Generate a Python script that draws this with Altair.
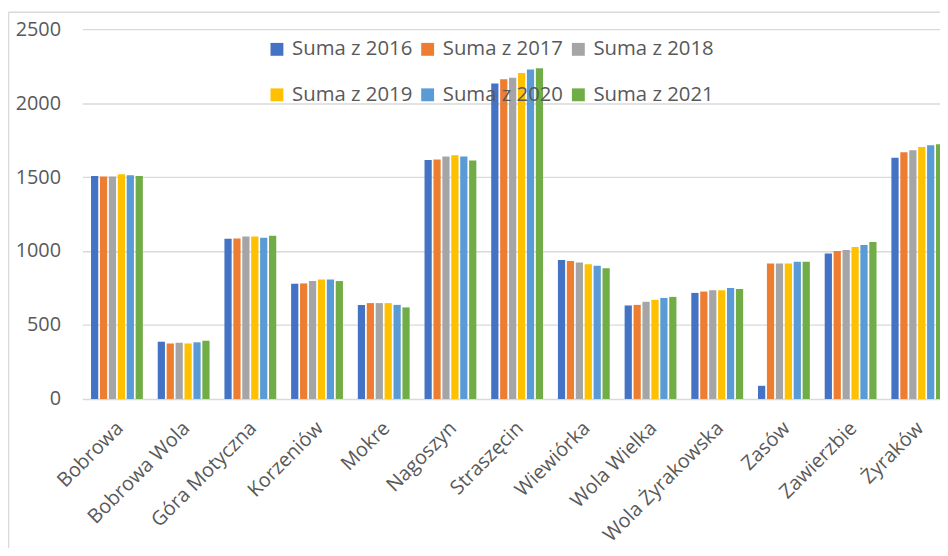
import altair as alt
import pandas as pd

categories = ["Bobrowa", "Bobrowa Wola", "Góra Motyczna", "Korzeniów", "Mokre",
              "Nagoszyn", "Straszęcin", "Wiewiórka", "Wola Wielka",
              "Wola Żyrakowska", "Zasów", "Zawierzbie", "Żyraków"]
series = ["Suma z 2016", "Suma z 2017", "Suma z 2018",
          "Suma z 2019", "Suma z 2020", "Suma z 2021"]
v2016 = [1507, 387, 1083, 779, 636, 1615, 2133, 940, 632, 717, 89, 983, 1630]
v2017 = [1503, 375, 1085, 781, 648, 1619, 2162, 933, 636, 726, 916, 1000, 1668]
v2018 = [1503, 380, 1099, 797, 648, 1639, 2171, 922, 657, 735, 915, 1007, 1682]
v2019 = [1519, 375, 1099, 808, 648, 1648, 2204, 911, 670, 735, 916, 1027, 1704]
v2020 = [1512, 383, 1090, 808, 636, 1639, 2227, 900, 683, 750, 927, 1041, 1715]
v2021 = [1507, 393, 1103, 797, 619, 1612, 2236, 884, 690, 744, 927, 1061, 1722]
colors = ["#4472C4", "#ED7D31", "#A5A5A5", "#FFC000", "#5B9BD5", "#70AD47"]
y_ticks = [0, 500, 1000, 1500, 2000, 2500]

rows = []
for s, vals in zip(series, [v2016, v2017, v2018, v2019, v2020, v2021]):
    for c, v in zip(categories, vals):
        rows.append({"category": c, "series": s, "value": v})
df = pd.DataFrame(rows)

FONT = "Open Sans"
TXT = "#595959"
GRID = "#D9D9D9"

bars = alt.Chart(df).mark_bar().encode(
    x=alt.X("category:N", sort=categories,
            scale=alt.Scale(range=[0, 877], paddingInner=0.223, paddingOuter=0.13),
            axis=alt.Axis(title=None, labelAngle=-45, labelFontSize=20, labelFont=FONT,
                          labelColor=TXT, labelPadding=19, labelOffset=-4, domain=False,
                          ticks=False, grid=False, labelOverlap=False, labelLimit=400)),
    xOffset=alt.XOffset("series:N", sort=series,
                        scale=alt.Scale(paddingInner=0.19, paddingOuter=0)),
    y=alt.Y("value:Q", scale=alt.Scale(domain=[0, 2500], nice=False),
            axis=alt.Axis(title=None, values=y_ticks, format="d", domain=False,
                          ticks=False, gridColor=GRID, gridWidth=1.4, labelPadding=22,
                          labelFontSize=20, labelFont=FONT, labelColor=TXT)),
    color=alt.Color("series:N", sort=series,
                    scale=alt.Scale(domain=series, range=colors),
                    legend=alt.Legend(title=None, orient="none", legendX=186, legendY=10,
                                      columns=3, direction="horizontal",
                                      symbolType="square", symbolSize=169,
                                      symbolStrokeWidth=0, labelFontSize=20.5,
                                      labelFont=FONT, labelColor=TXT, labelOffset=5,
                                      columnPadding=5, rowPadding=25, labelLimit=300,
                                      padding=0)),
)

one = pd.DataFrame({"a": [0]})
left_border = alt.Chart(one).mark_rule(color=GRID, strokeWidth=1.5).encode(
    x=alt.value(-74.5), y=alt.value(-17), y2=alt.value(530))
top_border = alt.Chart(one).mark_rule(color=GRID, strokeWidth=1.5).encode(
    x=alt.value(-74.5), x2=alt.value(900), y=alt.value(-17))

chart = alt.layer(bars, left_border, top_border).properties(
    width=865, height=373,
    padding={"left": 75, "top": 19, "right": 0, "bottom": 148},
    autosize=alt.AutoSizeParams(type="none"),
).configure_view(stroke=None)

chart.save("out.html", embed_options={"renderer": "svg", "actions": False})
